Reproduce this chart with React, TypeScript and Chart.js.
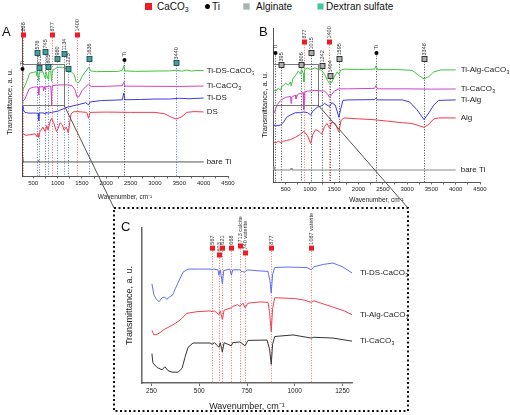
import React, { useEffect, useRef } from 'react';
import { Chart, registerables } from 'chart.js';

Chart.register(...registerables);

type Pt = [number, number];
type Mark = [number, number, string, string];

const FONT = "'Liberation Sans', Arial, Helvetica, sans-serif";

// ---------------- Panel A (wavenumber, transmittance a.u.) ----------------
const A_TI_DS_CACO3: Pt[] = [[270,57],[290,58.5],[330,61],[380,65],[430,69.5],[500,70],[560,70.5],[576,68],[590,70],[613,64.5],[625,70],[700,70.5],[745,66],[760,70.5],[805,65.5],[820,70.5],[860,71],[877,64],[890,71],[950,72.5],[1000,73.5],[1100,73.5],[1160,73],[1223,70],[1280,70.5],[1340,68.5],[1380,64],[1410,63],[1450,63.5],[1500,67],[1560,70],[1600,71.5],[1636,73.5],[1680,71],[1800,70.5],[2250,70.7],[2330,71.5],[2360,74.5],[2385,71],[2600,70.7],[3000,70.9],[3300,71],[3450,71.5],[3550,70.8],[3650,71.6],[3750,70.9],[3850,71.3],[4000,71.2]];
const A_TI_CACO3: Pt[] = [[270,50],[290,50.5],[330,52],[380,56],[420,59],[500,60],[560,60.2],[600,60],[613,55],[625,60],[700,60.5],[713,57.5],[725,60.5],[745,58.5],[760,60.5],[860,60.7],[870,56],[877,48],[884,56],[895,61],[1000,61.5],[1200,61.6],[1300,61],[1360,58],[1400,53.5],[1440,53.5],[1500,57.5],[1580,60.5],[1636,62],[1690,60.5],[2000,60.6],[2330,61],[2360,63.5],[2385,60.7],[3000,60.6],[3500,60.5],[4000,60.8]];
const A_TI_DS: Pt[] = [[270,47],[290,45],[330,43],[400,42.5],[550,42.5],[600,42.3],[613,37.5],[625,42.5],[700,42.7],[745,42],[760,43],[805,42.5],[877,43],[1000,43.8],[1200,46.5],[1400,48],[1580,49.5],[1636,48],[1670,50],[1900,51],[2200,51.3],[2330,51.5],[2360,56],[2385,51.5],[2700,51.7],[3000,52],[3300,52],[3500,52.5],[3700,52.2],[4000,52.7]];
const A_DS: Pt[] = [[270,29],[300,28.5],[350,27.5],[450,28],[540,28.5],[576,26.5],[595,29],[613,26],[640,30],[700,33],[745,30],[780,34],[805,31],[850,37],[877,39],[920,36],[980,30],[1010,32],[1050,36],[1100,34.5],[1134,31],[1180,33],[1223,29],[1250,36],[1280,42],[1320,43.3],[1400,43.5],[1600,43],[1636,39],[1670,43],[2000,43.2],[2500,43],[3000,43],[3200,42],[3350,39.5],[3440,38.5],[3550,40],[3650,43],[3800,43.5],[4000,43.3]];
const A_BARE_TI: Pt[] = [[270,12],[285,9.5],[600,9.5],[613,10.5],[625,9.5],[4000,9.5]];
const A_TICKS = [500,750,1000,1250,1500,1750,2000,2250,2500,2750,3000,3250,3500,3750,4000,4250,4500];
const A_MARKS: Mark[] = [
  [288, 95.3, 'caco3', '288'], [877, 95.3, 'caco3', '877'], [1400, 95.3, 'caco3', '1400'],
  [280, 72.3, 'ti', 'Ti'], [576, 83.1, 'ds', '576'], [613, 73, 'ds', '613'], [745, 83.8, 'ds', '745'],
  [805, 73.6, 'ds', '805'], [980, 79, 'ds', '980'], [1134, 82.4, 'ds', '1134'], [1223, 72.3, 'ds', '1223'],
  [1636, 79, 'ds', '1636'], [2360, 78.4, 'ti', 'Ti'], [3440, 76.4, 'ds', '3440'],
];
const A_ZOOM_BOX = [270, 1140, 48, 75.7];

// ---------------- Panel B ----------------
const B_TI_ALG_CACO3: Pt[] = [[240,60],[300,59],[350,61],[395,59.5],[420,62],[500,64],[560,63],[600,65],[613,62.5],[650,67],[700,69],[760,72],[806,70],[830,73],[870,70],[877,65],[890,73],[950,74],[1015,73],[1100,74],[1242,72.5],[1300,70],[1360,66],[1404,64],[1440,64.5],[1500,68],[1560,71.5],[1595,70],[1630,72.5],[1700,73.3],[2000,73],[2330,73.3],[2360,75.5],[2390,73],[2800,73],[3100,72.5],[3250,69],[3348,67],[3450,68.5],[3550,71.5],[3700,72.8],[4000,72.8]];
const B_TI_CACO3: Pt[] = [[240,44],[270,45],[320,50],[395,53],[500,55],[600,55.5],[613,51],[625,55],[700,56.5],[713,54],[750,57],[800,57.5],[860,58],[870,53],[877,47],[884,53],[895,58.5],[950,59],[1100,59.5],[1300,59],[1370,57],[1400,55],[1430,56],[1500,59],[1600,60.5],[1800,60.5],[2330,60.8],[2360,62.5],[2390,60.5],[3000,60.5],[3500,60.3],[4000,60.4]];
const B_TI_ALG: Pt[] = [[240,37],[300,36.5],[400,37],[460,39],[520,42],[600,43.5],[700,45],[806,45],[877,45.5],[950,45],[1015,43.5],[1060,46],[1150,48.5],[1242,49.5],[1300,51],[1404,49],[1450,51.5],[1520,50],[1560,46],[1595,42],[1630,47],[1680,53],[1800,53.3],[2330,53.5],[2360,54.5],[2390,53.3],[2900,53.3],[3050,52],[3200,47],[3348,40.5],[3450,45],[3550,50],[3650,53],[4000,53.3]];
const B_ALG: Pt[] = [[240,26],[300,25.5],[350,26.5],[400,25.5],[460,26.5],[520,27],[600,27.5],[700,29],[806,31],[877,33],[950,30],[1015,25],[1060,31],[1120,34],[1180,33],[1242,31],[1300,36],[1350,38],[1404,35],[1450,39],[1520,38],[1595,32.5],[1640,40],[1700,41.6],[2000,41],[2300,40.5],[2600,39.5],[2900,38.5],[3100,38],[3348,35.5],[3450,37.5],[3550,41],[3650,41.6],[4000,41.6]];
const B_BARE_TI: Pt[] = [[240,10],[260,7.8],[600,7.8],[613,9],[630,7.8],[4000,7.8]];
const B_TICKS = A_TICKS;
const B_MARKS: Mark[] = [
  [280, 83.8, 'ti', 'Ti'], [395, 76, 'alg', '395'], [806, 76, 'alg', '806'], [877, 90.9, 'caco3', '877'],
  [1015, 83.8, 'alg', '1015'], [1242, 75.3, 'alg', '1242'], [1404, 68.8, 'alg', '1404'],
  [1400, 90.9, 'caco3', '1400'], [1595, 79.9, 'alg', '1595'], [2360, 83.8, 'ti', 'Ti'], [3348, 79.9, 'alg', '3348'],
];
const B_ZOOM_BOX = [240, 1166, 50, 76.6];

// ---------------- Panel C ----------------
const C_TI_DS_CACO3: Pt[] = [[252,64],[262,57],[275,54],[290,52.5],[305,55],[318,55.5],[330,54],[345,55.5],[362,57],[375,61],[390,65],[415,71.5],[441,73.5],[500,73.5],[556,73.5],[567,73],[575,73.5],[598,73],[603,69.5],[610,73],[621,64],[628,72.5],[660,73.5],[668,69.5],[675,73],[713,73],[720,72],[740,71.5],[750,73],[818,72.3],[860,72],[870,66],[877,58],[884,70],[895,74.5],[960,74.8],[1064,74.5],[1087,73],[1100,75],[1150,76.5],[1200,77.4],[1250,75],[1300,71]];
const C_TI_ALG_CACO3: Pt[] = [[252,34],[262,31],[280,31.5],[295,32.5],[315,34.5],[331,35.5],[362,37.5],[399,40.5],[436,45],[488,46],[556,46.5],[567,46],[580,46.5],[603,44],[610,46.5],[621,41],[630,47],[668,48.5],[677,49.5],[700,50.5],[713,49.5],[729,51.5],[740,48.5],[755,51.5],[818,52.3],[860,52],[868,46],[877,33],[884,48],[895,55],[1000,54.5],[1050,53.5],[1087,52],[1100,53],[1200,49],[1260,46.5],[1300,44]];
const C_TI_CACO3: Pt[] = [[252,19],[257,13],[279,10],[305,8.5],[320,10.5],[336,8],[357,7],[389,7],[410,9.5],[425,16.5],[441,23],[467,25.8],[556,25.8],[567,25],[580,26],[603,23],[610,26],[621,20],[630,26],[668,24],[675,26],[713,26.5],[740,24],[755,27.5],[855,27.7],[868,22],[877,12],[884,25],[895,30],[991,31],[1087,29],[1100,29.5],[1200,29],[1300,27]];
const C_TICKS = [250, 500, 750, 1000, 1250];
const C_MARKS: Mark[] = [
  [567, 87, 'caco3', '567'], [603, 82.6, 'caco3', '603'], [621, 87, 'caco3', '621'], [668, 87, 'caco3', '668'],
  [713, 88.4, 'caco3', '713 calcite'], [740, 83.9, 'caco3', '740 vaterite'], [877, 87, 'caco3', '877'],
  [1087, 87, 'caco3', '1087 vaterite'],
];

const KIND: Record<string, { fill: string; stroke: string; line: string; circle?: boolean }> = {
  caco3: { fill: '#ee1c24', stroke: '#ee1c24', line: '#f06060' },
  ti: { fill: '#000000', stroke: '#000000', line: '#333333', circle: true },
  ds: { fill: '#3aa890', stroke: '#1d3352', line: '#5566e0' },
  alg: { fill: '#a9b1b1', stroke: '#111111', line: '#333333' },
};

interface Series { name: string; data: Pt[]; color: string; }
interface PanelSpec {
  left: number; top: number; w: number; h: number;
  pad: { top: number; right: number; left: number; bottom: number };
  yWidth: number; xHeight: number;
  xMin: number; xMax: number; ticks: number[]; labelEvery: number;
  tickFont: number; tickLen: number;
  xTitleFont: number; xTitlePad: number; yTitleFont: number; yTitlePad: number;
  axisColor: string; axisWidth: number;
  series: Series[]; marks: Mark[]; box?: number[];
  labelGap: number; markFont: number; seriesFont: number; markSize: number;
}

function drawSubText(ctx: CanvasRenderingContext2D, text: string, x: number, y: number, size: number) {
  ctx.textAlign = 'left';
  ctx.textBaseline = 'middle';
  ctx.font = `${size}px ${FONT}`;
  if (text.endsWith('₃')) {
    const main = text.slice(0, -1);
    ctx.fillText(main, x, y);
    const w = ctx.measureText(main).width;
    ctx.font = `${size * 0.65}px ${FONT}`;
    ctx.fillText('3', x + w + 0.3, y + size * 0.32);
  } else {
    ctx.fillText(text, x, y);
  }
}

function overlay(spec: PanelSpec) {
  return {
    id: 'overlay',
    beforeDatasetsDraw(chart: any) {
      const { ctx, chartArea } = chart;
      const xs = chart.scales.x, ys = chart.scales.y;
      ctx.save();
      ctx.setLineDash([1, 1.6]);
      ctx.lineWidth = 0.9;
      for (const [w, lv, kind] of spec.marks) {
        const px = Math.round(xs.getPixelForValue(w)) + 0.5;
        const py = ys.getPixelForValue(lv);
        ctx.strokeStyle = KIND[kind].line;
        ctx.beginPath();
        ctx.moveTo(px, py);
        ctx.lineTo(px, chartArea.bottom);
        ctx.stroke();
      }
      ctx.restore();
    },
    afterDatasetsDraw(chart: any) {
      const { ctx } = chart;
      const xs = chart.scales.x, ys = chart.scales.y;
      ctx.save();
      if (spec.box) {
        const [x0, x1, y0, y1] = spec.box;
        const a = xs.getPixelForValue(x0), b = xs.getPixelForValue(x1);
        const c = ys.getPixelForValue(y1), d = ys.getPixelForValue(y0);
        ctx.strokeStyle = '#777';
        ctx.lineWidth = 1;
        ctx.strokeRect(Math.round(a) + 0.5, Math.round(c) + 0.5, Math.round(b - a), Math.round(d - c));
      }
      const hs = spec.markSize / 2;
      for (const [w, lv, kind, label] of spec.marks) {
        const px = Math.round(xs.getPixelForValue(w)) + 0.5;
        const py = ys.getPixelForValue(lv);
        const k = KIND[kind];
        ctx.fillStyle = k.fill;
        ctx.strokeStyle = k.stroke;
        ctx.lineWidth = 0.8;
        if (k.circle) {
          ctx.beginPath();
          ctx.arc(px, py, hs * 0.8, 0, Math.PI * 2);
          ctx.fill();
        } else {
          ctx.fillRect(px - hs, py - hs, spec.markSize, spec.markSize);
          if (kind !== 'caco3') ctx.strokeRect(px - hs, py - hs, spec.markSize, spec.markSize);
        }
        ctx.save();
        ctx.translate(px, py - hs - 1);
        ctx.rotate(-Math.PI / 2);
        ctx.fillStyle = '#333';
        ctx.font = `${spec.markFont}px ${FONT}`;
        ctx.textAlign = 'left';
        ctx.textBaseline = 'middle';
        ctx.fillText(label, 0, 0);
        ctx.restore();
      }
      ctx.fillStyle = '#222';
      for (const s of spec.series) {
        const [lw, lv] = s.data[s.data.length - 1];
        drawSubText(ctx, s.name, xs.getPixelForValue(lw) + spec.labelGap, ys.getPixelForValue(lv), spec.seriesFont);
      }
      ctx.restore();
    },
  };
}

function buildConfig(spec: PanelSpec): any {
  return {
    type: 'line',
    data: {
      datasets: spec.series.map((s) => ({
        label: s.name,
        data: s.data.map(([x, y]) => ({ x, y })),
        borderColor: s.color,
        borderWidth: 1,
        pointRadius: 0,
        fill: false,
        tension: 0,
      })),
    },
    options: {
      animation: false,
      responsive: false,
      maintainAspectRatio: false,
      events: [],
      layout: { padding: spec.pad },
      plugins: { legend: { display: false }, tooltip: { enabled: false }, title: { display: false } },
      scales: {
        x: {
          type: 'linear',
          min: spec.xMin,
          max: spec.xMax,
          afterFit: (s: any) => { s.height = spec.xHeight; },
          afterBuildTicks: (s: any) => { s.ticks = spec.ticks.map((v) => ({ value: v })); },
          ticks: {
            autoSkip: false,
            maxRotation: 0,
            padding: 1,
            color: '#222',
            font: { family: FONT, size: spec.tickFont },
            callback: (v: number) => (v % spec.labelEvery === 0 ? String(v) : ''),
          },
          grid: { display: true, drawOnChartArea: false, drawTicks: true, tickLength: spec.tickLen, color: '#444', lineWidth: 0.8 },
          border: { display: true, color: spec.axisColor, width: spec.axisWidth },
          title: {
            display: true,
            text: 'Wavenumber, cm⁻¹',
            color: '#222',
            font: { family: FONT, size: spec.xTitleFont },
            padding: { top: 0, bottom: spec.xTitlePad },
          },
        },
        y: {
          type: 'linear',
          min: 0,
          max: 100,
          afterFit: (s: any) => { s.width = spec.yWidth; },
          ticks: { display: false },
          grid: { display: false },
          border: { display: true, color: spec.axisColor, width: spec.axisWidth },
          title: {
            display: true,
            text: 'Transmittance, a. u.',
            color: '#222',
            font: { family: FONT, size: spec.yTitleFont },
            padding: { top: spec.yTitlePad, bottom: 0 },
          },
        },
      },
    },
    plugins: [overlay(spec)],
  };
}

const SPEC_A: PanelSpec = {
  left: 0, top: 0, w: 254, h: 203,
  pad: { top: 28, right: 26, left: 0, bottom: 0 },
  yWidth: 22, xHeight: 27,
  xMin: 270, xMax: 4500, ticks: A_TICKS, labelEvery: 500,
  tickFont: 6, tickLen: 2.5, xTitleFont: 6.5, xTitlePad: 2, yTitleFont: 7.5, yTitlePad: 5.5,
  axisColor: '#555', axisWidth: 1,
  series: [
    { name: 'Ti-DS-CaCO₃', data: A_TI_DS_CACO3, color: '#3fc43f' },
    { name: 'Ti-CaCO₃', data: A_TI_CACO3, color: '#cc44cc' },
    { name: 'Ti-DS', data: A_TI_DS, color: '#3b3bdd' },
    { name: 'DS', data: A_DS, color: '#f03a4a' },
    { name: 'bare Ti', data: A_BARE_TI, color: '#555555' },
  ],
  marks: A_MARKS, box: A_ZOOM_BOX,
  labelGap: 3, markFont: 5.5, seriesFont: 8, markSize: 5,
};

const SPEC_B: PanelSpec = {
  left: 251, top: 0, w: 259, h: 209,
  pad: { top: 28, right: 30, left: 0, bottom: 0 },
  yWidth: 22, xHeight: 27,
  xMin: 240, xMax: 4500, ticks: B_TICKS, labelEvery: 500,
  tickFont: 6, tickLen: 2.5, xTitleFont: 6.5, xTitlePad: 5, yTitleFont: 7.5, yTitlePad: 9.5,
  axisColor: '#555', axisWidth: 1,
  series: [
    { name: 'Ti-Alg-CaCO₃', data: B_TI_ALG_CACO3, color: '#3fc43f' },
    { name: 'Ti-CaCO₃', data: B_TI_CACO3, color: '#cc44cc' },
    { name: 'Ti-Alg', data: B_TI_ALG, color: '#3b3bdd' },
    { name: 'Alg', data: B_ALG, color: '#f03a4a' },
    { name: 'bare Ti', data: B_BARE_TI, color: '#888888' },
  ],
  marks: B_MARKS, box: B_ZOOM_BOX,
  labelGap: 5, markFont: 5.5, seriesFont: 8, markSize: 5,
};

const SPEC_C: PanelSpec = {
  left: 116, top: 212, w: 296, h: 200,
  pad: { top: 16, right: 60, left: 0, bottom: 0 },
  yWidth: 26, xHeight: 29,
  xMin: 200, xMax: 1300, ticks: C_TICKS, labelEvery: 250,
  tickFont: 6.5, tickLen: 3, xTitleFont: 9, xTitlePad: 0.5, yTitleFont: 9, yTitlePad: 8.5,
  axisColor: '#666', axisWidth: 1.5,
  series: [
    { name: 'Ti-DS-CaCO₃', data: C_TI_DS_CACO3, color: '#5b6ff0' },
    { name: 'Ti-Alg-CaCO₃', data: C_TI_ALG_CACO3, color: '#f0404f' },
    { name: 'Ti-CaCO₃', data: C_TI_CACO3, color: '#333333' },
  ],
  marks: C_MARKS,
  labelGap: 8, markFont: 5.5, seriesFont: 8, markSize: 5,
};

function Panel({ spec }: { spec: PanelSpec }) {
  const ref = useRef<HTMLCanvasElement | null>(null);
  useEffect(() => {
    if (!ref.current) return;
    const chart = new Chart(ref.current, buildConfig(spec));
    return () => chart.destroy();
  }, [spec]);
  return (
    <canvas
      ref={ref}
      width={spec.w}
      height={spec.h}
      style={{ position: 'absolute', left: spec.left, top: spec.top, width: spec.w, height: spec.h }}
    />
  );
}

const Sub3 = () => <span style={{ fontSize: 7, position: 'relative', top: 2 }}>3</span>;

export default function App() {
  const legendText: React.CSSProperties = { position: 'absolute', top: 2, fontSize: 10, lineHeight: '10px', color: '#111', whiteSpace: 'nowrap' };
  const sq = (left: number, color: string, border?: string): React.CSSProperties => ({
    position: 'absolute', left, top: 3, width: 7, height: 7, background: color, boxSizing: 'border-box',
    border: border ? `1px solid ${border}` : 'none',
  });
  const letter: React.CSSProperties = { position: 'absolute', fontSize: 13, lineHeight: '13px', color: '#111' };
  return (
    <div style={{ position: 'absolute', left: 0, top: 0, width: 510, height: 415, background: '#fff', fontFamily: FONT, overflow: 'hidden' }}>
      <div style={sq(145, '#ee1c24')} />
      <div style={{ ...legendText, left: 157 }}>CaCO<Sub3 /></div>
      <div style={{ position: 'absolute', left: 205, top: 4, width: 5, height: 5, borderRadius: 3, background: '#000' }} />
      <div style={{ ...legendText, left: 212 }}>Ti</div>
      <div style={sq(243, '#a9b1b1', '#c9cfcf')} />
      <div style={{ ...legendText, left: 256 }}>Alginate</div>
      <div style={sq(317, '#3cc8a0', '#a8e0d0')} />
      <div style={{ ...legendText, left: 326 }}>Dextran sulfate</div>

      <Panel spec={SPEC_A} />
      <Panel spec={SPEC_B} />
      <Panel spec={SPEC_C} />

      <div style={{ ...letter, left: 2, top: 25 }}>A</div>
      <div style={{ ...letter, left: 259, top: 25 }}>B</div>
      <div style={{ ...letter, left: 121, top: 220 }}>C</div>

      <svg width={510} height={415} style={{ position: 'absolute', left: 0, top: 0, pointerEvents: 'none' }}>
        <line x1={64} y1={105} x2={114} y2={208} stroke="#555" strokeWidth={1} />
        <line x1={318} y1={105} x2={408} y2={208} stroke="#555" strokeWidth={1} />
        <rect x={114} y={208} width={294} height={203} fill="none" stroke="#111" strokeWidth={2} strokeDasharray="2 2.5" />
      </svg>
    </div>
  );
}
